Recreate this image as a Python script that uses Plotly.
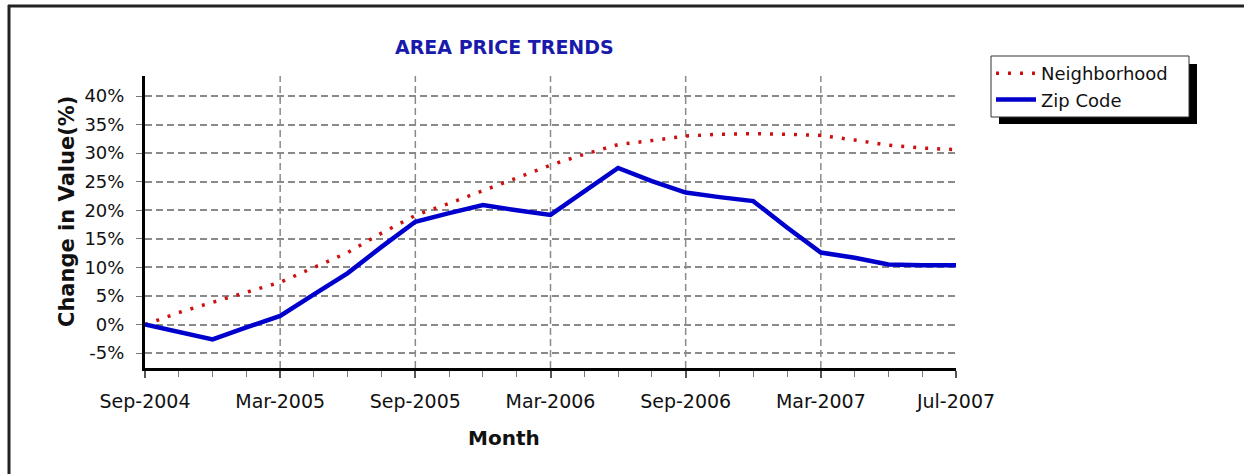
import plotly.graph_objects as go

# ---- data ----
tick_labels = ["Sep-2004", "Mar-2005", "Sep-2005", "Mar-2006", "Sep-2006", "Mar-2007", "Jul-2007"]
y_tick_vals = [-5, 0, 5, 10, 15, 20, 25, 30, 35, 40]
y_tick_text = ["-5%", "0%", "5%", "10%", "15%", "20%", "25%", "30%", "35%", "40%"]
neighborhood = [0.0, 2.1, 3.9, 5.6, 7.4, 10.0, 12.6, 16.0, 19.1, 21.2, 23.4, 25.7, 27.9,
                29.8, 31.5, 32.2, 33.0, 33.3, 33.4, 33.3, 33.1, 32.3, 31.4, 30.9, 30.6]
zip_code = [0.0, -1.3, -2.6, -0.5, 1.5, 5.3, 9.0, 13.6, 18.0, 19.5, 20.9, 20.0, 19.2,
            23.3, 27.4, 25.1, 23.1, 22.3, 21.6, 17.0, 12.6, 11.7, 10.5, 10.4, 10.4]

n_points = len(zip_code)
x_idx = list(range(n_points))
label_step = (n_points - 1) // (len(tick_labels) - 1)
tick_pos = [i * label_step for i in range(len(tick_labels))]

# ---- layout geometry (pixels) ----
W, H = 1244, 474
L, R, T, B = 145, 956, 76, 368
pw, ph = R - L, B - T


def px(xp):
    return (xp - L) / pw


def py(yp):
    return (B - yp) / ph


FONT = "DejaVu Sans"

fig = go.Figure()
fig.add_trace(go.Scatter(
    x=x_idx, y=neighborhood, name="Neighborhood", mode="lines",
    line=dict(color="#CC1111", width=3.5, dash="3px,9px"),
))
fig.add_trace(go.Scatter(
    x=x_idx, y=zip_code, name="Zip Code", mode="lines",
    line=dict(color="#0000CC", width=4.5),
))

shapes = []
# vertical dashed grid lines at labelled months (except the ends)
for p in tick_pos[1:-1]:
    shapes.append(dict(type="line", xref="x", yref="paper", x0=p, x1=p, y0=0, y1=1,
                       line=dict(color="#8a8a8a", width=1.5, dash="7px,4px"), layer="below"))
# legend shadow and box
shapes.append(dict(type="rect", xref="paper", yref="paper",
                   x0=px(999), x1=px(1197), y0=py(124), y1=py(64),
                   fillcolor="black", line=dict(width=0), layer="above"))
shapes.append(dict(type="rect", xref="paper", yref="paper",
                   x0=px(991), x1=px(1189), y0=py(117), y1=py(56),
                   fillcolor="white", line=dict(color="#333", width=1), layer="above"))
# outer frame (top and left)
shapes.append(dict(type="line", xref="paper", yref="paper",
                   x0=px(8), x1=px(1244), y0=py(6), y1=py(6),
                   line=dict(color="#222", width=3)))
shapes.append(dict(type="line", xref="paper", yref="paper",
                   x0=px(9), x1=px(9), y0=py(5), y1=py(474),
                   line=dict(color="#222", width=3)))

annotations = [
    dict(text="<b>AREA PRICE TRENDS</b>", xref="paper", yref="paper",
         x=px(504), y=py(47), xanchor="center", yanchor="middle", showarrow=False,
         font=dict(family=FONT, size=19, color="#1a1aaa")),
    dict(text="<b>Month</b>", xref="paper", yref="paper",
         x=px(504), y=py(438), xanchor="center", yanchor="middle", showarrow=False,
         font=dict(family=FONT, size=20, color="#111")),
    dict(text="<b>Change in Value(%)</b>", xref="paper", yref="paper",
         x=px(67), y=py(212), xanchor="center", yanchor="middle", showarrow=False,
         textangle=-90, font=dict(family=FONT, size=21, color="#111")),
]

fig.update_layout(
    width=W, height=H,
    margin=dict(l=L, r=W - R, t=T, b=H - B, pad=0),
    paper_bgcolor="white", plot_bgcolor="white",
    font=dict(family=FONT, size=18, color="#111"),
    showlegend=True,
    legend=dict(x=px(991), y=py(55), xanchor="left", yanchor="top",
                bgcolor="rgba(0,0,0,0)", borderwidth=0,
                font=dict(family=FONT, size=18, color="#111"),
                itemwidth=40,
                traceorder="normal"),
    shapes=shapes,
    annotations=annotations,
    xaxis=dict(
        range=[0, n_points - 1], tickmode="array", tickvals=tick_pos, ticktext=tick_labels,
        showgrid=False, zeroline=False, showline=True, linecolor="black", linewidth=3,
        ticks="outside", ticklen=7, tickwidth=1.5, tickcolor="#555",
        ticklabelstandoff=7,
        minor=dict(tickmode="array", tickvals=x_idx, ticks="outside", ticklen=6,
                   tickwidth=1, tickcolor="#777", showgrid=False),
        tickfont=dict(family=FONT, size=19, color="#111"),
    ),
    yaxis=dict(
        range=[-7.6, 43.5], tickmode="array", tickvals=y_tick_vals, ticktext=y_tick_text,
        showgrid=True, gridcolor="#8a8a8a", gridwidth=1.5, griddash="7px,4px",
        zeroline=False, showline=True, linecolor="black", linewidth=3,
        ticks="outside", ticklen=6, tickwidth=1, tickcolor="#777",
        ticklabelstandoff=8,
        tickfont=dict(family=FONT, size=18, color="#111"),
    ),
)

fig.write_html("out.html", config={"displayModeBar": False},
               post_script="document.body.style.margin='0px';document.body.style.overflow='hidden';")
